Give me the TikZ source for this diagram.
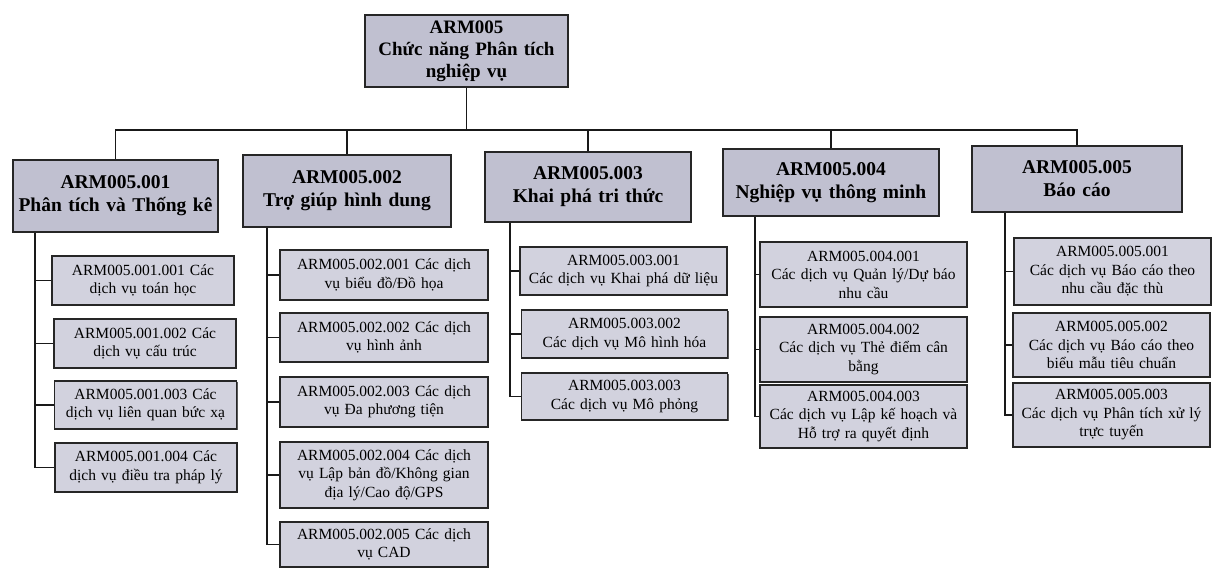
\documentclass[tikz,border=0pt]{standalone}
\usepackage{fontspec}
\setmainfont{Liberation Serif}
\usetikzlibrary{shadows}

\definecolor{headfill}{RGB}{192,192,208}
\definecolor{subfill}{RGB}{210,210,222}

\tikzset{
	box/.style={draw=black!85, line width=1.1pt, inner sep=0pt, align=center,
		drop shadow={shadow xshift=1.2pt, shadow yshift=-1.2pt, fill=black!65, opacity=1}},
	headbox/.style={box, fill=headfill, font=\fontsize{19.5}{23}\selectfont\bfseries},
	subbox/.style={box, fill=subfill, font=\fontsize{15.5}{18.5}\selectfont},
	link/.style={draw=black!90, line width=1.1pt}
}

\begin{document}
\begin{tikzpicture}[x=1pt, y=-1pt]
		\useasboundingbox (0,0) rectangle (1215,570);
		% root
		\node[headbox, minimum width=203pt, minimum height=72pt, text width=197pt, font=\fontsize{19}{22}\selectfont\bfseries] (top) at (466.5,51) {ARM005\\Chức năng Phân tích\\nghiệp vụ};
		\coordinate (bus) at (466.5,130);
		% level 1
		\node[headbox, minimum width=205pt, minimum height=72pt, text width=201pt] (h1) at (115.5,196) {ARM005.001\\Phân tích và Thống kê};
		\node[headbox, minimum width=208pt, minimum height=72pt, text width=202pt] (h2) at (347,191) {ARM005.002\\Trợ giúp hình dung};
		\node[headbox, minimum width=206pt, minimum height=70pt, text width=200pt] (h3) at (588,187) {ARM005.003\\Khai phá tri thức};
		\node[headbox, minimum width=216pt, minimum height=67pt, text width=210pt] (h4) at (831,182.5) {ARM005.004\\Nghiệp vụ thông minh};
		\node[headbox, minimum width=210pt, minimum height=66pt, text width=204pt] (h5) at (1077,179) {ARM005.005\\Báo cáo};
		% column 1
		\node[subbox, minimum width=182pt, minimum height=49pt, text width=178pt] (c11) at (143,280.5) {ARM005.001.001 Các\\dịch vụ toán học};
		\node[subbox, minimum width=182pt, minimum height=49pt, text width=178pt] (c12) at (145,343.5) {ARM005.001.002 Các\\dịch vụ cấu trúc};
		\node[subbox, minimum width=182pt, minimum height=48pt, text width=178pt] (c13) at (145.5,405) {ARM005.001.003 Các\\dịch vụ liên quan bức xạ};
		\node[subbox, minimum width=182pt, minimum height=49pt, text width=178pt] (c14) at (146,467.5) {ARM005.001.004 Các\\dịch vụ điều tra pháp lý};
		% column 2
		\node[subbox, minimum width=208pt, minimum height=50pt, text width=204pt] (c21) at (384,275) {ARM005.002.001 Các dịch\\vụ biểu đồ/Đồ họa};
		\node[subbox, minimum width=208pt, minimum height=49pt, text width=204pt] (c22) at (384,337.5) {ARM005.002.002 Các dịch\\vụ hình ảnh};
		\node[subbox, minimum width=208pt, minimum height=50pt, text width=204pt] (c23) at (384,402) {ARM005.002.003 Các dịch\\vụ Đa phương tiện};
		\node[subbox, minimum width=208pt, minimum height=66pt, text width=204pt] (c24) at (384,475) {ARM005.002.004 Các dịch\\vụ Lập bản đồ/Không gian\\địa lý/Cao độ/GPS};
		\node[subbox, minimum width=208pt, minimum height=45pt, text width=204pt] (c25) at (384,544.5) {ARM005.002.005 Các dịch\\vụ CAD};
		% column 3
		\node[subbox, minimum width=207pt, minimum height=48pt, text width=203pt] (c31) at (623.5,271) {ARM005.003.001\\Các dịch vụ Khai phá dữ liệu};
		\node[subbox, minimum width=206pt, minimum height=48pt, text width=202pt] (c32) at (624.5,334) {ARM005.003.002\\Các dịch vụ Mô hình hóa};
		\node[subbox, minimum width=206pt, minimum height=47pt, text width=202pt] (c33) at (624.5,396.5) {ARM005.003.003\\Các dịch vụ Mô phỏng};
		% column 4
		\node[subbox, minimum width=207pt, minimum height=65pt, text width=203pt] (c41) at (863.5,274.5) {ARM005.004.001\\Các dịch vụ Quản lý/Dự báo\\nhu cầu};
		\node[subbox, minimum width=207pt, minimum height=65pt, text width=203pt] (c42) at (863.5,349.5) {ARM005.004.002\\Các dịch vụ Thẻ điểm cân\\bằng};
		\node[subbox, minimum width=207pt, minimum height=63pt, text width=203pt] (c43) at (863.5,416.5) {ARM005.004.003\\Các dịch vụ Lập kế hoạch và\\Hỗ trợ ra quyết định};
		% column 5
		\node[subbox, minimum width=197pt, minimum height=67pt, text width=193pt] (c51) at (1112.5,271.5) {ARM005.005.001\\Các dịch vụ  Báo cáo theo\\nhu cầu đặc thù};
		\node[subbox, minimum width=197pt, minimum height=64pt, text width=193pt] (c52) at (1111.5,345) {ARM005.005.002\\Các dịch vụ Báo cáo theo\\biểu mẫu tiêu chuẩn};
		\node[subbox, minimum width=197pt, minimum height=64pt, text width=193pt] (c53) at (1111.5,415) {ARM005.005.003\\Các dịch vụ Phân tích xử lý\\trực tuyến};
		% bus
		\draw[link] (top.south) -- (bus);
		\draw[link] (h1.north) |- (bus) -| (h5.north);
		\foreach \h in {h2,h3,h4}
			\draw[link] (\h.north) -- (\h.north |- bus);
		% trunks
		\coordinate (t1) at (35,0);
		\coordinate (t2) at (267,0);
		\coordinate (t3) at (510,0);
		\coordinate (t4) at (755,0);
		\coordinate (t5) at (1005,0);
		\draw[link] (h1.south -| t1) |- (c14.west);
		\draw[link] (h2.south -| t2) |- (c25.west);
		\draw[link] (h3.south -| t3) |- (c33.west);
		\draw[link] (h4.south -| t4) |- (c43.west);
		\draw[link] (h5.south -| t5) |- (c53.west);
		\foreach \c in {c11,c12,c13}
			\draw[link] (\c.west) -- (\c.west -| t1);
		\foreach \c in {c21,c22,c23,c24}
			\draw[link] (\c.west) -- (\c.west -| t2);
		\foreach \c in {c31,c32}
			\draw[link] (\c.west) -- (\c.west -| t3);
		\foreach \c in {c41,c42}
			\draw[link] (\c.west) -- (\c.west -| t4);
		\foreach \c in {c51,c52}
			\draw[link] (\c.west) -- (\c.west -| t5);
	\end{tikzpicture}
\end{document}
